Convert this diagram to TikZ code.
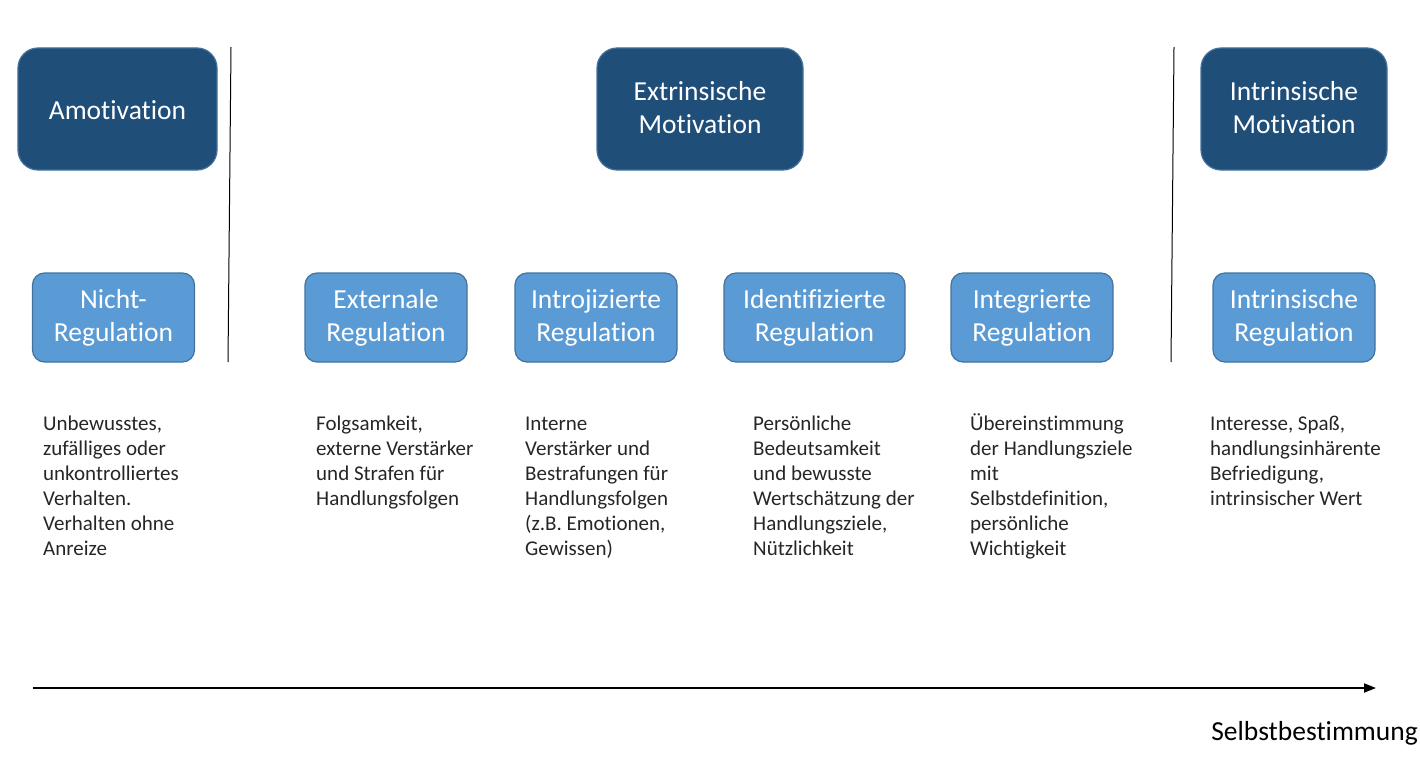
\documentclass[tikz,border=0pt]{standalone}
\usepackage{fontspec}
\setmainfont{Carlito}[Ligatures=CommonOff]
\usetikzlibrary{arrows.meta}
\definecolor{darkbox}{HTML}{1F4E79}
\definecolor{darkedge}{HTML}{41719C}
\definecolor{lightbox}{HTML}{5B9BD5}
\definecolor{lightedge}{HTML}{41719C}
\newcommand\motstrut{\rule[-3bp]{0pt}{33bp}}
\newcommand\onestrut{\rule[-10bp]{0pt}{33bp}}
\newcommand\regstrut{\rule[-1.5bp]{0pt}{33bp}}
\newcommand\desctext[1]{\begin{tabular}[t]{@{}l@{}}#1\end{tabular}}
\begin{document}
\begin{tikzpicture}[x=1bp,y=-1bp,
  motbox/.style={draw=darkedge, line width=1.2bp, fill=darkbox, rounded corners=20bp,
    text=white, font=\fontsize{27.5bp}{33bp}\selectfont, align=center, inner sep=0pt,
    minimum height=122bp, execute at begin node=\motstrut, execute at end node=\motstrut},
  regbox/.style={draw=lightedge, line width=1.2bp, fill=lightbox, rounded corners=12bp,
    text=white, font=\fontsize{27.5bp}{33bp}\selectfont, align=center, inner sep=0pt,
    minimum height=89bp, minimum width=162bp,
    execute at begin node=\regstrut, execute at end node=\regstrut},
  desc/.style={font=\fontsize{21bp}{25bp}\selectfont, anchor=base west,
    inner sep=0pt, text=black!85},
  sep/.style={draw=black, line width=1bp}
]
\useasboundingbox (0,0) rectangle (1420,765);

% top boxes
\node[motbox, minimum width=199bp, execute at begin node=\onestrut, execute at end node=\onestrut] (amot) at (117.5,109) {Amotivation};
\node[motbox, minimum width=206bp] (extr) at (700,109) {Extrinsische\\Motivation};
\node[motbox, minimum width=186bp] (intr) at (1294,109) {Intrinsische\\Motivation};

% regulation boxes
\node[regbox] (nicht) at (113.5,317.5) {Nicht-\\Regulation};
\node[regbox] (ext) at (386,317.5) {Externale\\Regulation};
\node[regbox] (intro) at (596,317.5) {Introjizierte\\Regulation};
\node[regbox, minimum width=181bp] (ident) at (814.5,317.5) {Identifizierte\\Regulation};
\node[regbox] (integ) at (1032,317.5) {Integrierte\\Regulation};
\node[regbox] (intreg) at (1294,317.5) {Intrinsische\\Regulation};

% separators
\coordinate (s1a) at (231,47);
\coordinate (s1b) at (228,362);
\coordinate (s2a) at (1174,47);
\coordinate (s2b) at (1171,362);
\draw[sep] (s1a) -- (s1b);
\draw[sep] (s2a) -- (s2b);

% descriptions
\node[desc] (d1) at (43,430) {\desctext{Unbewusstes,\\zufälliges oder\\unkontrolliertes\\Verhalten.\\Verhalten ohne\\Anreize}};
\node[desc] (d2) at (316,430) {\desctext{Folgsamkeit,\\externe Verstärker\\und Strafen für\\Handlungsfolgen}};
\node[desc] (d3) at (525,430) {\desctext{Interne\\Verstärker und\\Bestrafungen für\\Handlungsfolgen\\(z.B. Emotionen,\\Gewissen)}};
\node[desc] (d4) at (753,430) {\desctext{Persönliche\\Bedeutsamkeit\\und bewusste\\Wertschätzung der\\Handlungsziele,\\Nützlichkeit}};
\node[desc] (d5) at (970,430) {\desctext{Übereinstimmung\\der Handlungsziele\\mit\\Selbstdefinition,\\persönliche\\Wichtigkeit}};
\node[desc] (d6) at (1210,430) {\desctext{Interesse, Spaß,\\handlungsinhärente\\Befriedigung,\\intrinsischer Wert}};

% axis
\coordinate (ax0) at (33,688);
\coordinate (ax1) at (1376,688);
\draw[line width=2bp, -{Triangle[length=12bp,width=9bp]}] (ax0) -- (ax1);
\node[font=\fontsize{27.5bp}{33bp}\selectfont, anchor=base east, inner sep=0pt] (sb) at (1418,740) {Selbstbestimmung};
\end{tikzpicture}
\end{document}
